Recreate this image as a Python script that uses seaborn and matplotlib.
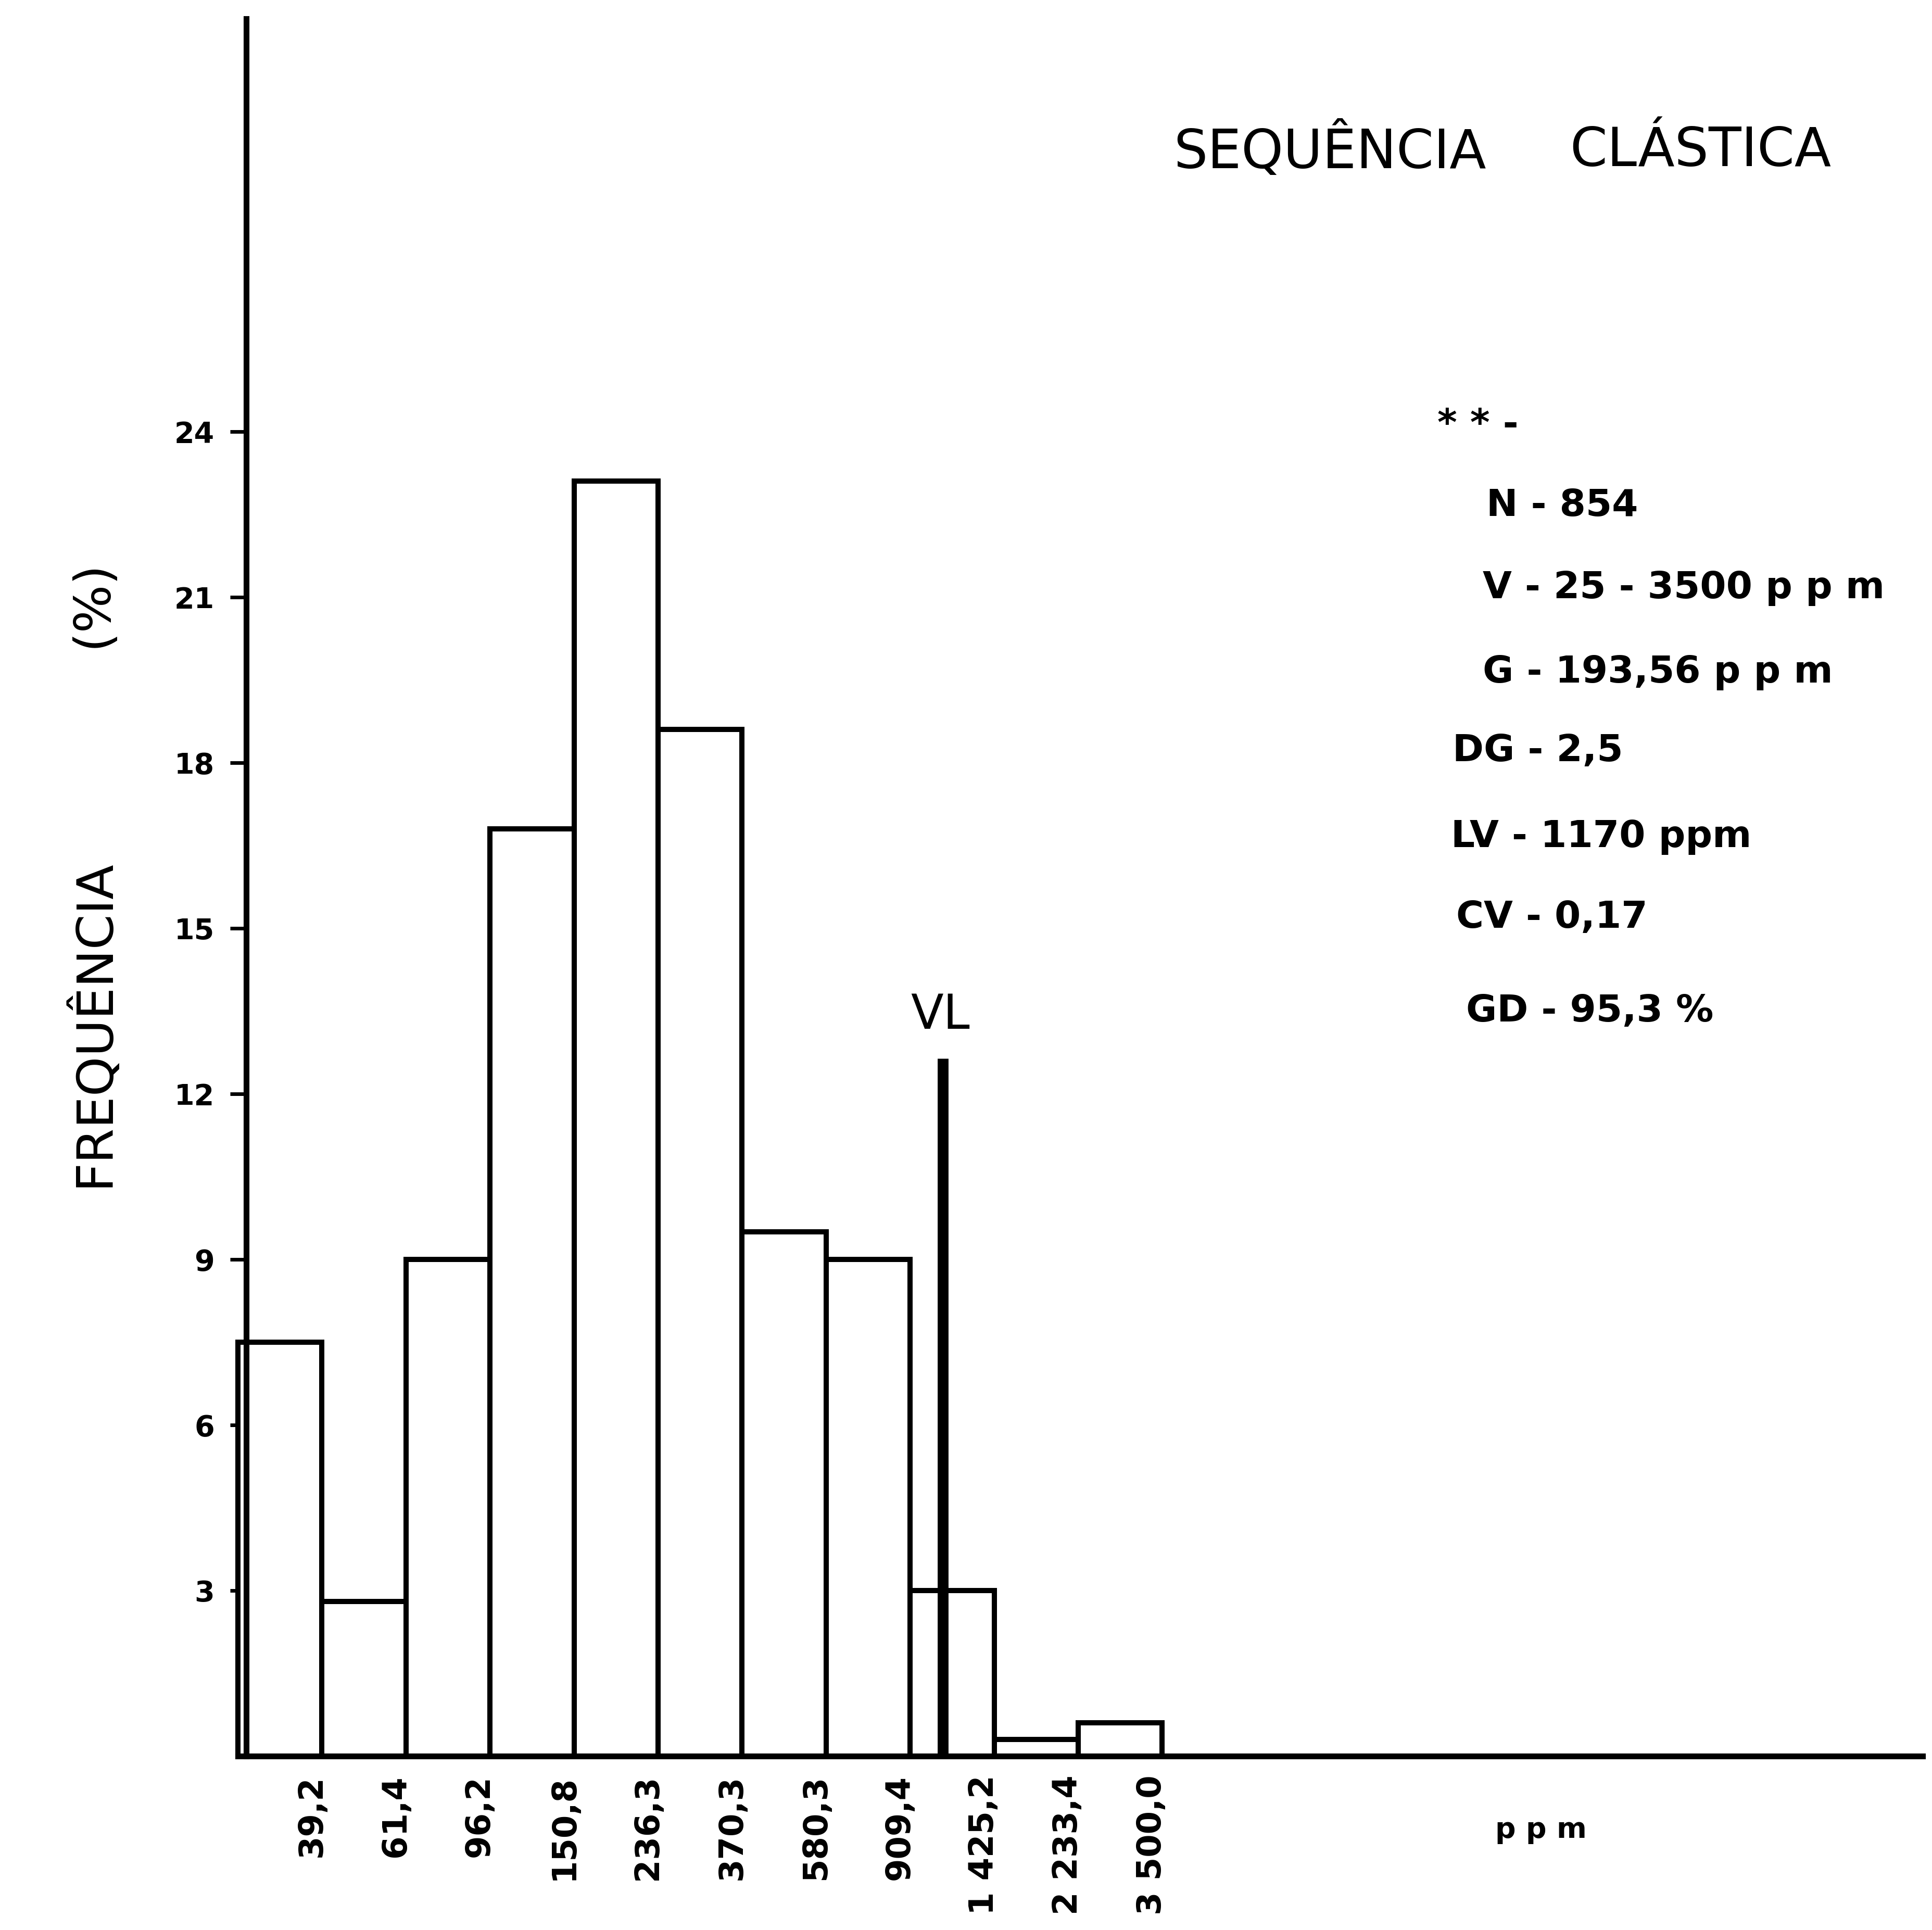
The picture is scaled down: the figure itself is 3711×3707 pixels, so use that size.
import numpy as np
import pandas as pd
import matplotlib
matplotlib.use("Agg")
import matplotlib.pyplot as plt
import matplotlib.transforms as mtransforms
import seaborn as sns

# ---------------- data ----------------
upper_limits = ["39,2", "61,4", "96,2", "150,8", "236,3", "370,3",
                "580,3", "909,4", "1 425,2", "2 233,4", "3 500,0"]
frequency = [7.5, 2.8, 9.0, 16.8, 23.1, 18.6, 9.5, 9.0, 3.0, 0.3, 0.6]
y_ticks = [3, 6, 9, 12, 15, 18, 21, 24]
vl_position = 8.39     # in bin units along the x axis
vl_height = 12.64
stats_lines = ["* * -", "N - 854", "V - 25 - 3500 p p m", "G - 193,56 p p m",
               "DG - 2,5", "LV - 1170 ppm", "CV - 0,17", "GD - 95,3 %"]

# ---------------- figure ----------------
sns.set_theme(style="white")
plt.rcParams['font.family'] = ['DejaVu Sans']

W, H, DPI = 3712, 3707, 200
fig = plt.figure(figsize=(W / DPI, H / DPI), dpi=DPI)
fig.patch.set_facecolor("white")


def fx(px):
    return px / W


def fy(py):
    return 1 - py / H


ax = fig.add_axes([fx(457), fy(3373), (3693 - 457) / W, (3373 - 36) / H])
ax.set_facecolor("white")

df = pd.DataFrame({"bin": np.arange(len(frequency)) + 0.5,
                   "freq": np.asarray(frequency, dtype=float)})
sns.histplot(data=df, x="bin", weights="freq",
             binwidth=1, binrange=(0, len(frequency)),
             color="white", edgecolor="black", linewidth=3.6, alpha=1,
             ax=ax)
for p in ax.patches:
    p.set_clip_on(False)
    p.set_facecolor("white")

ax.set_xlim(0, 20.05)
ax.set_ylim(0, 31.48)

# spines
for s in ["top", "right"]:
    ax.spines[s].set_visible(False)
ax.spines["left"].set_position(("data", 0.1))
ax.spines["left"].set_linewidth(4)
ax.spines["bottom"].set_linewidth(4)
ax.spines["left"].set_color("black")
ax.spines["bottom"].set_color("black")

# ticks
ax.set_xticks(np.arange(1, len(upper_limits) + 1))
ax.set_xticklabels(upper_limits, rotation=90, fontsize=23, fontweight="bold")
ax.tick_params(axis="x", length=0, pad=13, colors="black")
shift = mtransforms.ScaledTranslation(-20 / DPI, 0, fig.dpi_scale_trans)
for lbl in ax.get_xticklabels():
    lbl.set_transform(lbl.get_transform() + shift)
ax.set_yticks(y_ticks)
ax.set_yticklabels([str(v) for v in y_ticks], fontsize=20, fontweight="bold")
ax.tick_params(axis="y", direction="out", length=11, width=2.5, pad=11,
               colors="black", left=True)
ax.set_xlabel("")
ax.set_ylabel("")

# VL line
ax.plot([vl_position, vl_position], [0, vl_height], color="black", lw=7.5,
        solid_capstyle="butt")
ax.text(vl_position - 0.03, vl_height + 0.78, "VL", ha="center", va="center",
        fontsize=33, color="black")

# titles / labels
fig.text(fx(2254), fy(291), "SEQUÊNCIA", ha="left", va="center", fontsize=37,
         color="black")
fig.text(fx(3015), fy(291), "CLÁSTICA", ha="left", va="center", fontsize=37,
         color="black")
fig.text(fx(178), fy(1965), "FREQUÊNCIA", rotation=90, ha="center", va="center",
         fontsize=35, color="black")
fig.text(fx(178), fy(1160), "(%)", rotation=90, ha="center", va="center",
         fontsize=35, color="black")
fig.text(fx(2872), fy(3515), "p p m", ha="left", va="center", fontsize=20,
         fontweight="bold", color="black")

# statistics block
stats_pos = [(2761, 817), (2855, 971), (2848, 1129), (2848, 1292),
             (2790, 1442), (2787, 1608), (2797, 1762), (2816, 1942)]
for (px, py), s in zip(stats_pos, stats_lines):
    fig.text(fx(px), fy(py), s, ha="left", va="center", fontsize=26,
             fontweight="bold", color="black")

fig.savefig("out.png", dpi=DPI, facecolor="white")
